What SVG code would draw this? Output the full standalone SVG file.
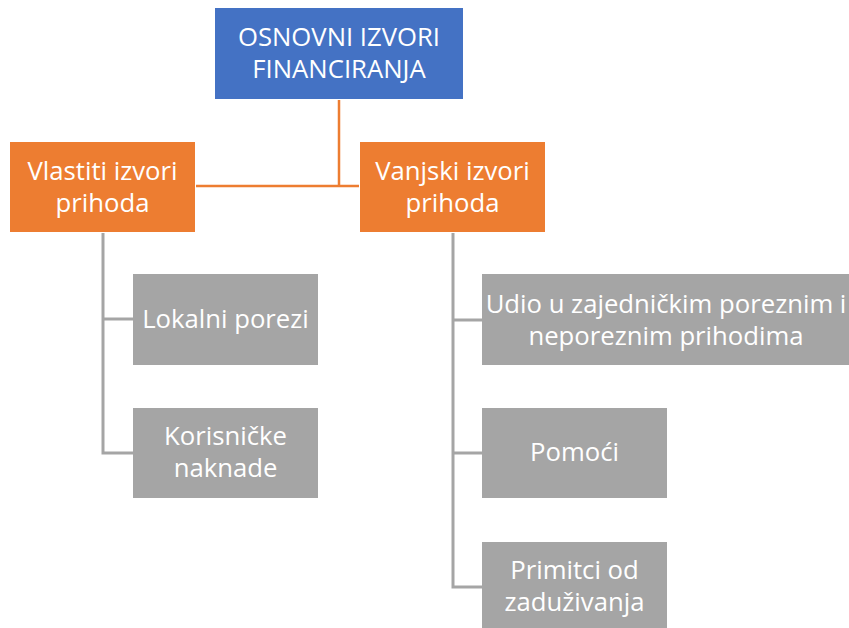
<svg xmlns="http://www.w3.org/2000/svg" width="849" height="628" viewBox="0 0 849 628">
<style>
text{font-family:"Open Sans","Noto Sans",sans-serif;font-size:25.7px;fill:#fff;text-anchor:middle}
.blue{fill:#4472C4}
.orange{fill:#ED7D31}
.gray{fill:#A5A5A5}
.co{stroke:#ED7D31;stroke-width:2.5;fill:none}
.cg{stroke:#A5A5A5;stroke-width:3;fill:none}
</style>
<rect width="849" height="628" fill="#fff"/>
<g id="connectors">
<path class="co" d="M339 100V186M196 186H359"/>
<path class="cg" d="M103 233V453H133M103 319H133"/>
<path class="cg" d="M453 233V587H482M453 320H482M453 453H482"/>
</g>
<g id="root"><rect class="blue" x="215" y="8" width="248" height="91"/><text x="339" y="46">OSNOVNI IZVORI</text><text x="339" y="78">FINANCIRANJA</text></g>
<g id="vlastiti"><rect class="orange" x="10" y="142" width="185" height="90"/><text x="102.5" y="180">Vlastiti izvori</text><text x="102.5" y="212">prihoda</text></g>
<g id="vanjski"><rect class="orange" x="360" y="142" width="185" height="90"/><text x="452.5" y="180">Vanjski izvori</text><text x="452.5" y="212">prihoda</text></g>
<g id="lokalni"><rect class="gray" x="133" y="274" width="185" height="91"/><text x="225.5" y="328">Lokalni porezi</text></g>
<g id="korisnicke"><rect class="gray" x="133" y="408" width="185" height="90"/><text x="225.5" y="445">Korisničke</text><text x="225.5" y="477">naknade</text></g>
<g id="udio"><rect class="gray" x="482" y="274" width="367" height="91"/><text x="666" y="313">Udio u zajedničkim poreznim i</text><text x="666" y="345">neporeznim prihodima</text></g>
<g id="pomoci"><rect class="gray" x="482" y="408" width="185" height="90"/><text x="574.5" y="461">Pomoći</text></g>
<g id="primitci"><rect class="gray" x="482" y="542" width="185" height="86"/><text x="574.5" y="579">Primitci od</text><text x="574.5" y="611">zaduživanja</text></g>
</svg>
